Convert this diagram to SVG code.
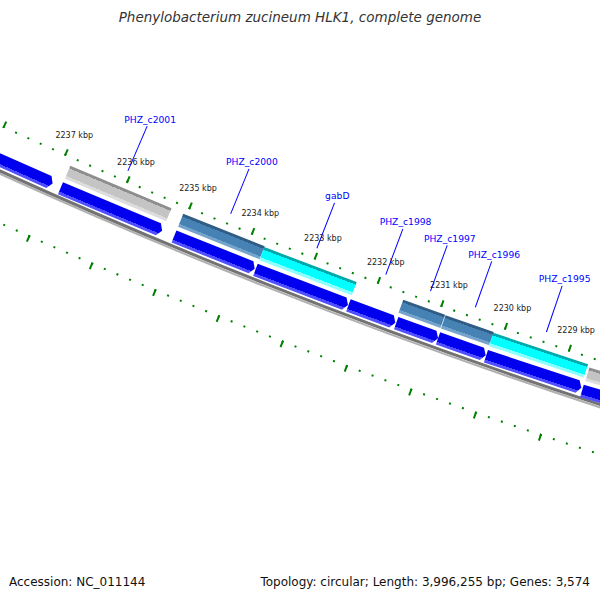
<svg xmlns="http://www.w3.org/2000/svg" width="600" height="600" viewBox="0 0 600 600">
<defs>
<linearGradient id="gGrey" x1="0" y1="0" x2="1" y2="0">
<stop offset="0" stop-color="#8e8e8e"/><stop offset=".2" stop-color="#8e8e8e"/><stop offset=".2" stop-color="#c4c4c4"/><stop offset=".78" stop-color="#c4c4c4"/><stop offset=".78" stop-color="#dcdcdc"/><stop offset="1" stop-color="#dcdcdc"/>
</linearGradient>
<linearGradient id="gSteel" x1="0" y1="0" x2="1" y2="0">
<stop offset="0" stop-color="#2f5d85"/><stop offset=".2" stop-color="#2f5d85"/><stop offset=".2" stop-color="#4682b4"/><stop offset=".78" stop-color="#4682b4"/><stop offset=".78" stop-color="#76a3cb"/><stop offset="1" stop-color="#76a3cb"/>
</linearGradient>
<linearGradient id="gCyan" x1="0" y1="0" x2="1" y2="0">
<stop offset="0" stop-color="#00aaaa"/><stop offset=".2" stop-color="#00aaaa"/><stop offset=".2" stop-color="#00ffff"/><stop offset=".78" stop-color="#00ffff"/><stop offset=".78" stop-color="#8cffff"/><stop offset="1" stop-color="#8cffff"/>
</linearGradient>
<linearGradient id="gBlue" x1="0" y1="0" x2="1" y2="0">
<stop offset="0" stop-color="#0000ee"/><stop offset=".77" stop-color="#0000ee"/><stop offset=".77" stop-color="#4f4fff"/><stop offset="1" stop-color="#4f4fff"/>
</linearGradient>
</defs>
<style>
.tick{fill:none;stroke:#008000}
.tl{font-family:"DejaVu Sans",sans-serif;font-size:8px;fill:#222;text-anchor:middle}
.gl{font-family:"DejaVu Sans",sans-serif;font-size:9.2px;fill:#0000ff;text-anchor:middle}
.lead{stroke:#0000ff;stroke-width:1;fill:none}
.grey{fill:url(#gGrey)}
.steel{fill:url(#gSteel)}
.cyan{fill:url(#gCyan)}
.cds{fill:url(#gBlue)}
.info{font-family:"DejaVu Sans",sans-serif;font-size:12px;fill:#111}
</style>
<rect width="600" height="600" fill="#ffffff"/>
<text x="300" y="22" font-family="DejaVu Sans, sans-serif" font-size="13.5" font-style="italic" fill="#333" text-anchor="middle">Phenylobacterium zucineum HLK1, complete genome</text>

<g id="map" transform="translate(2400.8,-5110.5)">
  <g id="backbone">
    <circle r="5801.5" fill="none" stroke="#737373" stroke-width="3"/>
    <circle r="5804.2" fill="none" stroke="#b0b0b0" stroke-width="2"/>
  </g>
  <g id="ticks" transform="rotate(114.861)">
    <path class="tick" d="M5760,0 A5760,5760 0 0 0 5710.72,-751.83" stroke-width="2" stroke-dasharray="2 11.5154" stroke-dashoffset="1"/>
    <path class="tick" d="M5757.5,0 A5757.5,5757.5 0 0 0 5708.245,-751.5" stroke-width="7" stroke-dasharray="2 65.548" stroke-dashoffset="41.5285"/>
    <path class="tick" d="M5849,0 A5849,5849 0 0 0 5798.96,-763.45" stroke-width="2" stroke-dasharray="2 11.7242" stroke-dashoffset="1"/>
    <path class="tick" d="M5851.5,0 A5851.5,5851.5 0 0 0 5801.44,-763.77" stroke-width="7" stroke-dasharray="2 66.6505" stroke-dashoffset="42.1903"/>
  </g>
  <g id="tick-labels">
    <text class="tl" transform="rotate(113.92) translate(5738,0) rotate(-113.92)" y="2.9">2237 kbp</text>
    <text class="tl" transform="rotate(113.2478) translate(5738,0) rotate(-113.2478)" y="2.9">2236 kbp</text>
    <text class="tl" transform="rotate(112.5756) translate(5738,0) rotate(-112.5756)" y="2.9">2235 kbp</text>
    <text class="tl" transform="rotate(111.9034) translate(5738,0) rotate(-111.9034)" y="2.9">2234 kbp</text>
    <text class="tl" transform="rotate(111.2312) translate(5738,0) rotate(-111.2312)" y="2.9">2233 kbp</text>
    <text class="tl" transform="rotate(110.559) translate(5738,0) rotate(-110.559)" y="2.9">2232 kbp</text>
    <text class="tl" transform="rotate(109.8868) translate(5738,0) rotate(-109.8868)" y="2.9">2231 kbp</text>
    <text class="tl" transform="rotate(109.2146) translate(5738,0) rotate(-109.2146)" y="2.9">2230 kbp</text>
    <text class="tl" transform="rotate(108.5424) translate(5738,0) rotate(-108.5424)" y="2.9">2229 kbp</text>
  </g>

  <g id="gene-prev">
    <path class="cds" transform="rotate(113.92)" d="M5785,4 L5791.5,0 L5798,4 L5798,160 L5785,160Z"/>
  </g>
  <g id="PHZ_c2001">
    <rect class="grey" transform="rotate(112.74)" x="5767" y="0" width="14" height="109.8"/>
    <path class="cds" transform="rotate(112.74)" d="M5785,4 L5791.5,0 L5798,4 L5798,110.2 L5785,110.2Z"/>
    <text class="gl" transform="rotate(113.285) translate(5693.4,0) rotate(-113.285)" y="3.4">PHZ_c2001</text>
  </g>
  <g id="PHZ_c2000">
    <rect class="steel" transform="rotate(111.74)" x="5767" y="0" width="14" height="87.7"/>
    <path class="cds" transform="rotate(111.75)" d="M5785,4 L5791.5,0 L5798,4 L5798,86.9 L5785,86.9Z"/>
    <text class="gl" transform="rotate(112.175) translate(5693.4,0) rotate(-112.175)" y="3.4">PHZ_c2000</text>
  </g>
  <g id="gabD">
    <rect class="cyan" transform="rotate(110.76)" x="5767" y="0" width="14" height="98.75"/>
    <path class="cds" transform="rotate(110.76)" d="M5785,4 L5791.5,0 L5798,4 L5798,99 L5785,99Z"/>
    <text class="gl" transform="rotate(111.25) translate(5693.4,0) rotate(-111.25)" y="3.4">gabD</text>
  </g>
  <g id="PHZ_c1998">
    <path class="cds" transform="rotate(110.26)" d="M5785,4 L5791.5,0 L5798,4 L5798,50 L5785,50Z"/>
    <text class="gl" transform="rotate(110.515) translate(5693.4,0) rotate(-110.515)" y="3.4">PHZ_c1998</text>
  </g>
  <g id="PHZ_c1997">
    <rect class="steel" transform="rotate(109.823)" x="5767" y="0" width="14" height="44.5"/>
    <path class="cds" transform="rotate(109.81)" d="M5785,4 L5791.5,0 L5798,4 L5798,44.5 L5785,44.5Z"/>
    <text class="gl" transform="rotate(110.04) translate(5693.4,0) rotate(-110.04)" y="3.4">PHZ_c1997</text>
  </g>
  <g id="PHZ_c1996">
    <rect class="steel" transform="rotate(109.31)" x="5767" y="0" width="14" height="51.1"/>
    <path class="cds" transform="rotate(109.31)" d="M5785,4 L5791.5,0 L5798,4 L5798,50.5 L5785,50.5Z"/>
    <text class="gl" transform="rotate(109.565) translate(5693.4,0) rotate(-109.565)" y="3.4">PHZ_c1996</text>
  </g>
  <g id="PHZ_c1995">
    <rect class="cyan" transform="rotate(108.32)" x="5767" y="0" width="14" height="99.8"/>
    <path class="cds" transform="rotate(108.31)" d="M5785,4 L5791.5,0 L5798,4 L5798,100.5 L5785,100.5Z"/>
    <text class="gl" transform="rotate(108.815) translate(5693.4,0) rotate(-108.815)" y="3.4">PHZ_c1995</text>
  </g>
  <g id="gene-next">
    <rect class="grey" transform="rotate(106.5)" x="5767" y="0" width="14" height="181"/>
    <path class="cds" transform="rotate(106.5)" d="M5785,4 L5791.5,0 L5798,4 L5798,181.5 L5785,181.5Z"/>
  </g>

  <g id="leaders">
    <line class="lead" transform="rotate(113.285)" x1="5701" y1="0" x2="5749.7" y2="0"/>
    <line class="lead" transform="rotate(112.175)" x1="5701" y1="0" x2="5749.7" y2="0"/>
    <line class="lead" transform="rotate(111.25)" x1="5701" y1="0" x2="5749.7" y2="0"/>
    <line class="lead" transform="rotate(110.515)" x1="5701" y1="0" x2="5749.7" y2="0"/>
    <line class="lead" transform="rotate(110.04)" x1="5701" y1="0" x2="5749.7" y2="0"/>
    <line class="lead" transform="rotate(109.565)" x1="5701" y1="0" x2="5749.7" y2="0"/>
    <line class="lead" transform="rotate(108.815)" x1="5701" y1="0" x2="5749.7" y2="0"/>
  </g>
</g>

<text class="info" x="9" y="586">Accession: NC_011144</text>
<text class="info" x="590" y="586" text-anchor="end">Topology: circular; Length: 3,996,255 bp; Genes: 3,574</text>
</svg>
